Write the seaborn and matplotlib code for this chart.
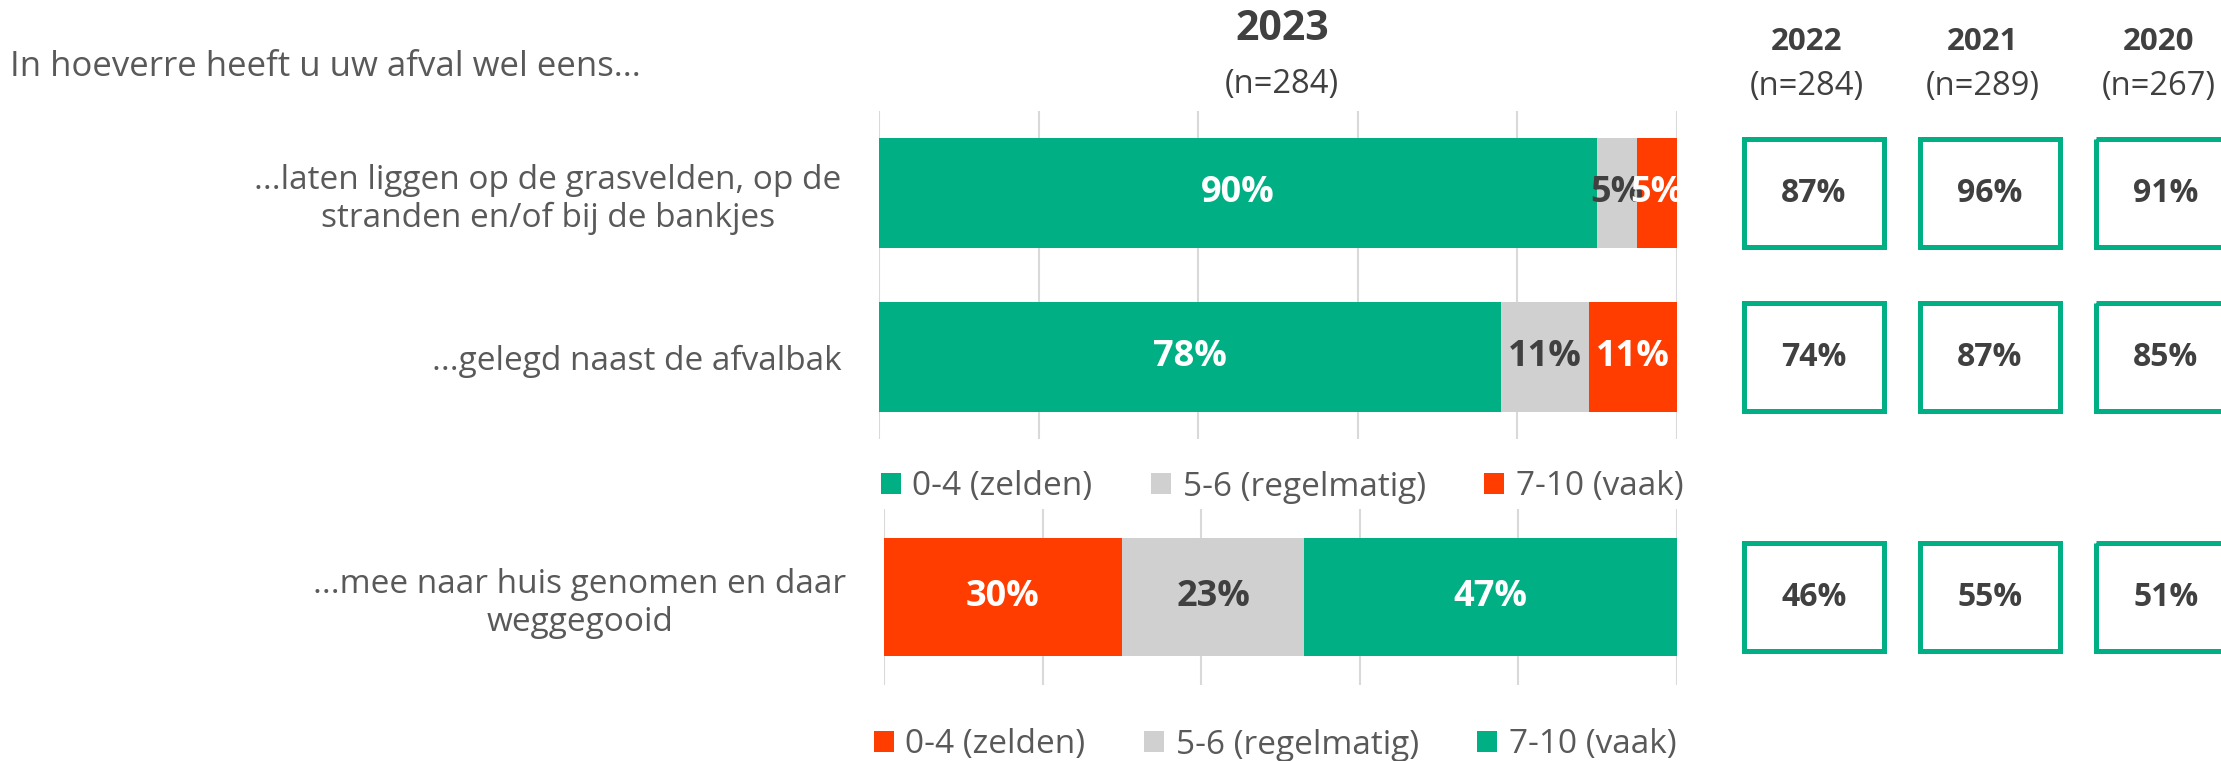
""" Afval laten liggen - gestapelde balken 2023 met trend 2022-2020 """
import numpy as np
import pandas as pd
import matplotlib
matplotlib.use('Agg')
import matplotlib.pyplot as plt
import matplotlib.transforms as mtransforms
from matplotlib.patches import Patch, Rectangle
import seaborn as sns


"""  data  """
vragen_boven = ['...laten liggen op de grasvelden, op de\nstranden en/of bij de bankjes',
                '...gelegd naast de afvalbak']
zelden_boven = [90, 78]
regelmatig_boven = [5, 11]
vaak_boven = [5, 11]

vragen_onder = ['...mee naar huis genomen en daar\nweggegooid']
zelden_onder = [30]
regelmatig_onder = [23]
vaak_onder = [47]

legenda = ['0-4 (zelden)', '5-6 (regelmatig)', '7-10 (vaak)']
n_2023 = 284

jaren = ['2022', '2021', '2020']
n_jaren = [284, 289, 267]
score_2022 = [87, 74, 46]                 ### per rij: grasvelden, afvalbak, mee naar huis
score_2021 = [96, 87, 55]
score_2020 = [91, 85, 51]

GROEN = '#00B084'
ROOD = '#FF3D00'
GRIJS = '#D0D0D0'
TEKST = '#595959'
DONKER = '#404040'

sns.set_theme(style='white')
plt.rcParams['font.family'] = ['Open Sans', 'DejaVu Sans']

W, H = 2221, 761
fig = plt.figure(figsize=(W / 100, H / 100), dpi=100)


def pos(left, top, right, bottom):
    # pixel box -> figure fraction
    return [left / W, 1 - bottom / H, (right - left) / W, (bottom - top) / H]


ax1 = fig.add_axes(pos(879, 111, 1677, 439))
ax2 = fig.add_axes(pos(884, 509, 1677, 685))
r1 = fig.add_axes(pos(1726, 111, 2254, 439))
r2 = fig.add_axes(pos(1726, 509, 2254, 685))


def gestapeld(ax, vragen, segmenten, kleuren, tekstkleuren):
    cum = np.cumsum(np.array(segmenten, dtype=float), axis=0)
    # langste eerst tekenen, kortere liggen erbovenop
    for c, kleur in reversed(list(zip(cum, kleuren))):
        sns.barplot(x=c, y=vragen, orient='h', color=kleur, saturation=1,
                    width=0.67, linewidth=0, errorbar=None, ax=ax)
    for s, c, tk in zip(segmenten, cum, tekstkleuren):
        for i, (v, e) in enumerate(zip(s, c)):
            ax.text(e - v / 2, i, f'{v}%', ha='center', va='center', color=tk,
                    fontsize=26, fontweight='bold')


gestapeld(ax1, vragen_boven, [zelden_boven, regelmatig_boven, vaak_boven],
          [GROEN, GRIJS, ROOD], ['white', DONKER, 'white'])
gestapeld(ax2, vragen_onder, [zelden_onder, regelmatig_onder, vaak_onder],
          [ROOD, GRIJS, GROEN], ['white', DONKER, 'white'])

for ax in (ax1, ax2):
    ax.set_xlim(0, 100)
    ax.set_xticks(range(0, 101, 20))
    ax.grid(axis='x', color='#D9D9D9', lw=1.5)
    ax.set_axisbelow(True)
    sns.despine(ax=ax, left=True, bottom=True)
    ax.tick_params(axis='x', length=0, labelbottom=False)
    ax.tick_params(axis='y', length=0, pad=27, labelsize=24, labelcolor=TEKST)
    ax.set_xlabel('')
    ax.set_ylabel('')
    for lbl in ax.get_yticklabels():
        lbl.set_multialignment('center')

"""  legendas onder elke grafiek  """
for kleuren, xc, yc in (([GROEN, GRIJS, ROOD], 1282, 487), ([ROOD, GRIJS, GROEN], 1275, 745)):
    handles = [Patch(facecolor=k, edgecolor='none') for k in kleuren]
    fig.legend(handles, legenda, loc='center', bbox_to_anchor=(xc / W, 1 - yc / H), ncol=3,
               frameon=False, fontsize=24, labelcolor=TEKST, handlelength=0.6,
               handleheight=0.6, handletextpad=0.35, columnspacing=1.75)

"""  trend kaders rechts  """
scores = [score_2022, score_2021, score_2020]
for ax, rijen, hoogte, ylim in ((r1, [0, 1], 0.66, (1.5, -0.5)), (r2, [2], 0.61, (0.5, -0.5))):
    ax.set_xlim(-0.5, 2.5)
    ax.set_ylim(*ylim)
    ax.axis('off')
    for j, sc in enumerate(scores):
        for i, rij in enumerate(rijen):
            ax.add_patch(Rectangle((j - 0.4, i - hoogte / 2), 0.8, hoogte, fill=False,
                                   edgecolor=GROEN, lw=3.6))
            ax.text(j, i, f'{sc[rij]}%', ha='center', va='center', color=DONKER,
                    fontsize=23, fontweight='bold')

trans = mtransforms.blended_transform_factory(r1.transData, fig.transFigure)
for j, (jaar, n) in enumerate(zip(jaren, n_jaren)):
    r1.text(j - 0.04, 1 - 42 / H, jaar, transform=trans, ha='center', va='center',
            color=DONKER, fontsize=22.5, fontweight='bold')
    r1.text(j - 0.04, 1 - 87 / H, f'(n={n})', transform=trans, ha='center', va='center',
            color=DONKER, fontsize=23.5)

"""  koppen  """
fig.text(1282 / W, 1 - 29 / H, '2023', ha='center', va='center', color=DONKER,
         fontsize=29.5, fontweight='bold')
fig.text(1282 / W, 1 - 84 / H, f'(n={n_2023})', ha='center', va='center', color=DONKER,
         fontsize=23.5)
fig.text(10 / W, 1 - 67 / H, 'In hoeverre heeft u uw afval wel eens...', ha='left',
         va='center', color=TEKST, fontsize=25)

fig.savefig('out.png', dpi=100)
